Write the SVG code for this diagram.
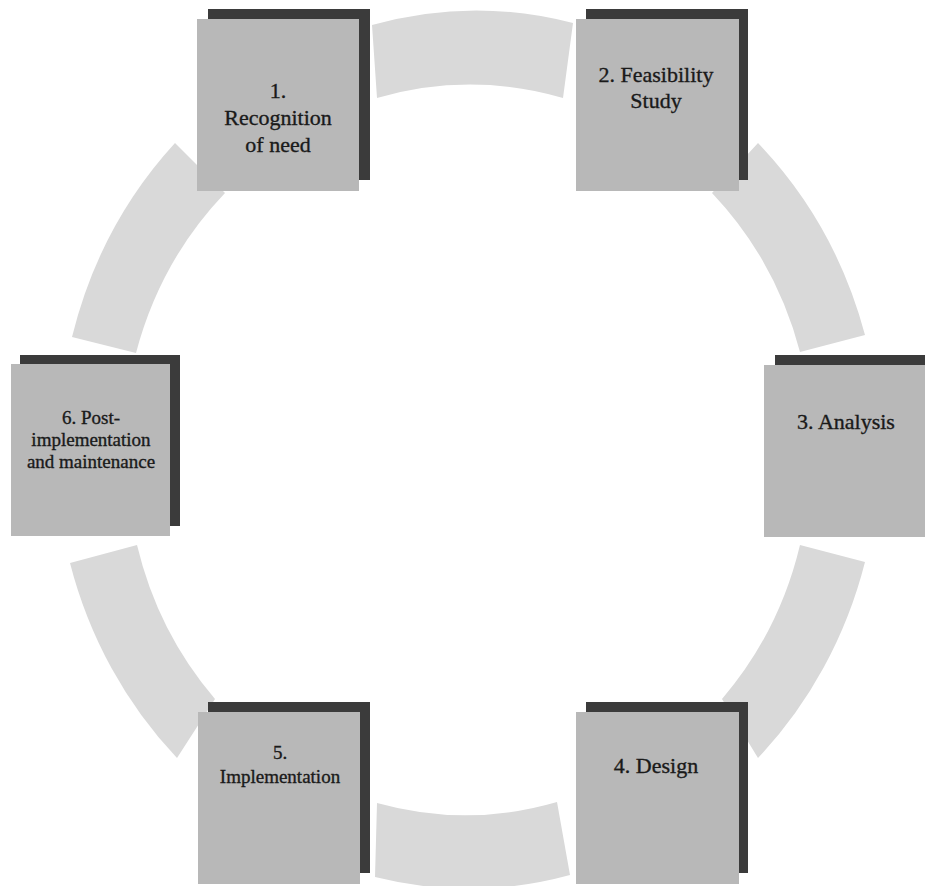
<svg xmlns="http://www.w3.org/2000/svg" width="925" height="886" viewBox="0 0 925 886">
  <style>
    .seg { fill: #d9d9d9; }
    .shadow { fill: #3b3b3b; }
    .face { fill: #b8b8b8; }
    .label { font-family: "Liberation Serif", "Times New Roman", serif; fill: #1a1a1a; stroke: #1a1a1a; stroke-width: 0.35; text-anchor: middle; }
    .big { font-size: 22px; }
    .small { font-size: 19px; }
  </style>
  <rect width="925" height="886" fill="#ffffff"/>

  <!-- ring segments linking the stages -->
  <g id="connectors">
    <path class="seg" d="M372,25 A409,436 0 0 1 573,23 L563,98 A344,362 0 0 0 377,98 Z"/>
    <path class="seg" d="M758,143 A409,436 0 0 1 865,335 L800,352 A344,362 0 0 0 712,193 Z"/>
    <path class="seg" d="M865,562 A409,436 0 0 1 758,758 L722,699 A344,362 0 0 0 800,545 Z"/>
    <path class="seg" d="M570,875 A409,436 0 0 1 375,877 L377,803 A344,362 0 0 0 557,802 Z"/>
    <path class="seg" d="M177,758 A409,436 0 0 1 70,563 L137,545 A344,362 0 0 0 215,699 Z"/>
    <path class="seg" d="M72,337 A409,436 0 0 1 175,143 L225,193 A344,362 0 0 0 136,353 Z"/>
  </g>

  <g id="node1">
    <rect class="shadow" x="208" y="9" width="162" height="171"/>
    <rect class="face" x="197" y="19" width="162" height="172"/>
    <text class="label big" x="278" y="98">1.</text>
    <text class="label big" x="278" y="125">Recognition</text>
    <text class="label big" x="278" y="152">of need</text>
  </g>

  <g id="node2">
    <rect class="shadow" x="586" y="9" width="162" height="171"/>
    <rect class="face" x="576" y="19" width="163" height="172"/>
    <text class="label big" x="656" y="82">2. Feasibility</text>
    <text class="label big" x="656" y="108">Study</text>
  </g>

  <g id="node3">
    <rect class="shadow" x="775" y="355" width="162" height="171"/>
    <rect class="face" x="764" y="365" width="163" height="172"/>
    <text class="label big" x="846" y="429">3. Analysis</text>
  </g>

  <g id="node4">
    <rect class="shadow" x="586" y="702" width="162" height="171"/>
    <rect class="face" x="576" y="712" width="163" height="172"/>
    <text class="label big" x="656" y="773">4. Design</text>
  </g>

  <g id="node5">
    <rect class="shadow" x="208" y="702" width="162" height="171"/>
    <rect class="face" x="198" y="712" width="162" height="172"/>
    <text class="label small" x="280" y="759">5.</text>
    <text class="label small" x="280" y="783">Implementation</text>
  </g>

  <g id="node6">
    <rect class="shadow" x="20" y="355" width="160" height="171"/>
    <rect class="face" x="11" y="364" width="159" height="172"/>
    <text class="label small" x="91" y="424">6. Post-</text>
    <text class="label small" x="91" y="446">implementation</text>
    <text class="label small" x="91" y="468">and maintenance</text>
  </g>
</svg>
